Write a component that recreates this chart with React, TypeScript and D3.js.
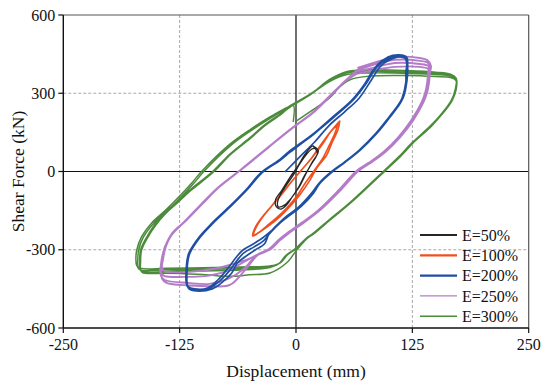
import React from "react";
import * as d3 from "d3";

type Pt = [number, number];

const xTicks = [-250, -125, 0, 125, 250];
const yTicks = [600, 300, 0, -300, -600];
const gridX = [-125, 125];
const gridY = [300, -300];

// E=50% (black)
const black1: Pt[] = [[18, 98], [24, 79], [17, 33], [10, -13], [4, -56], [-3.5, -94], [-10, -128], [-16, -144], [-21, -136], [-22, -109], [-15, -71], [-7, -25], [2, 21], [9, 63], [15, 90], [18, 98]];
const black2: Pt[] = [[20, 90], [23, 71], [16, 25], [9, -17], [3, -59], [-5, -102], [-12, -128], [-19, -136], [-20, -121], [-17.5, -94], [-11, -56], [-3.5, -17], [4, 29], [11.5, 67], [17, 86], [20, 90]];

// E=100% (orange)
const orange1: Pt[] = [[47, 194], [45, 159], [39, 113], [33, 63], [23, 17], [15, -33], [4, -90], [-7, -136], [-17.5, -174], [-28, -205], [-39, -232], [-46.5, -247], [-44, -216], [-37, -178], [-28, -140], [-17.5, -94], [-7, -48], [4, -2], [15, 44], [25, 94], [36, 148], [44, 182], [47, 194]];
const orange2: Pt[] = [[45, 182], [42, 148], [36, 102], [29, 52], [20, 6], [10, -44], [1, -94], [-10, -140], [-21, -178], [-31.5, -209], [-41, -236], [-45.5, -243], [-42, -209], [-35, -171], [-26, -132], [-15, -86], [-5, -40], [6, 6], [17, 52], [28, 102], [37, 151], [43, 174], [45, 182]];

// E=200% (blue)
const blue1: Pt[] = [[-12, -2], [4, 56], [20, 113], [36, 178], [52, 228], [68, 282], [81, 351], [92, 408], [106, 435], [114, 440], [119, 430], [120, 400],
  [119, 343], [115, 282], [109, 251], [101, 209], [87, 147], [68, 82], [52, 36], [39, 2], [25, -44], [18, -82], [4, -136], [-10, -174], [-17, -197], [-28, -232],
  [-36, -255], [-46, -278], [-57, -301], [-64, -328], [-73, -370], [-84, -416], [-95, -447], [-109, -450],
  [-116, -440], [-117, -427], [-117, -378], [-116, -339], [-114, -312], [-103, -251], [-89, -197], [-71, -136], [-53, -71], [-36, -2], [-17, 44], [-7, 75], [18, 140], [39, 205], [61, 274], [74, 332], [84, 389], [93, 420], [103, 435], [113, 439], [119, 428], [120, 397]];
const blue2: Pt[] = [[119, 360], [119, 343], [115, 282], [110, 251], [101, 209], [87, 147], [69, 82], [53, 36], [40, 2], [26, -44], [19, -82], [5, -136], [-9, -174], [-17, -197], [-28, -236],
  [-35, -266], [-45, -289], [-56, -312], [-63, -339], [-71, -378], [-82, -420], [-93, -447], [-108, -454],
  [-116, -445], [-118, -425], [-118, -378], [-117, -339], [-115, -312], [-104, -251], [-90, -197], [-72, -136], [-54, -71], [-37, -2], [-18, 44], [-8, 75], [17, 140], [38, 205], [60, 274], [73, 332], [83, 389], [92, 424], [102, 440], [112, 443], [117, 436], [119, 410]];
const blue3: Pt[] = [[118, 380], [118, 343], [114, 282], [109, 251], [100, 209], [86, 147], [68, 82], [52, 36], [39, 2], [25, -44], [17, -82], [3, -136], [-11, -174], [-18, -197], [-29, -240],
  [-34, -278], [-44, -301], [-55, -328], [-63, -351], [-69, -389], [-80, -427], [-90, -450], [-107, -458],
  [-115, -450], [-117, -430], [-117, -380], [-116, -340], [-114, -313], [-103, -252], [-89, -198], [-71, -137], [-53, -72], [-36, -3], [-17, 43], [-6, 75], [18, 141], [40, 206], [62, 276], [75, 335], [85, 392], [94, 428], [104, 445], [114, 446], [119, 438], [120, 415]];

// E=250% (purple)
const purple1: Pt[] = [[66, 397], [90, 424], [106, 439], [133, 435], [141, 427], [145, 405],
  [144, 381], [143, 343], [141, 305], [137, 266], [126, 197], [112, 132], [96, 75], [80, 33], [67, 2], [48, -71], [26, -148], [8, -197], [-6, -232], [-17, -263], [-27, -297], [-41, -320],
  [-57, -343], [-71, -358], [-89, -374], [-114, -385], [-136, -385], [-143, -378],
  [-144, -350], [-141, -300], [-134, -245], [-119, -190], [-101, -124], [-83, -60], [-58, 10], [-30, 92], [-5, 164], [17, 222], [35, 284], [51, 341], [66, 390]];
const purple2: Pt[] = [[66, 390], [90, 416], [106, 428], [133, 424], [142, 416], [144, 398],
  [143, 381], [142, 343], [140, 305], [136, 266], [125, 197], [111, 132], [95, 75], [79, 33], [66, 2], [47, -71], [25, -148], [7, -197], [-7, -232], [-18, -263], [-28, -297], [-42, -320],
  [-56, -347], [-77, -385], [-98, -401], [-120, -404], [-141, -401], [-145, -390],
  [-145, -355], [-142, -302], [-135, -247], [-120, -192], [-102, -126], [-84, -62], [-59, 8], [-31, 90], [-6, 162], [16, 220], [34, 282], [50, 338], [65, 383]];
const purple3: Pt[] = [[65, 383], [90, 404], [106, 416], [133, 412], [142, 405], [143, 395],
  [142, 381], [141, 343], [139, 305], [135, 266], [124, 197], [110, 132], [94, 75], [78, 33], [65, 2], [46, -71], [24, -148], [6, -197], [-8, -232], [-19, -263], [-29, -297], [-43, -322],
  [-55, -370], [-73, -412], [-93, -431], [-116, -427], [-141, -416], [-145, -400],
  [-146, -380], [-144, -340], [-141, -290], [-133, -238], [-118, -188], [-100, -122], [-82, -58], [-57, 12], [-29, 94], [-4, 166], [18, 224], [36, 286], [52, 343], [65, 374]];
const purple4: Pt[] = [[65, 374], [90, 393], [106, 401], [133, 401], [142, 393], [143, 385],
  [142, 370], [142, 343], [140, 305], [136, 266], [125, 197], [111, 132], [95, 75], [79, 33], [66, 2], [47, -71], [25, -148], [7, -197], [-6, -232], [-17, -263], [-27, -297], [-41, -320],
  [-53, -370], [-71, -435], [-90, -440], [-114, -437], [-139, -427], [-144, -410],
  [-145, -385], [-143, -339], [-140, -289], [-133, -236], [-118, -187], [-101, -122], [-83, -60], [-58, 11], [-30, 93], [-5, 165], [17, 223], [35, 285], [51, 342]];

// E=300% (green)
const green1: Pt[] = [[-1, 190], [18, 236], [36, 282], [47, 324], [58, 352], [80, 366], [120, 368], [150, 364], [166, 360], [172, 348],
  [171, 312], [167, 274], [157, 224], [144, 171], [125, 109], [111, 56], [95, 2], [79, -52], [58, -121], [36, -186], [18, -240], [11.5, -255], [1, -293], [-10, -320], [-17.5, -351], [-28, -362],
  [-60, -366], [-100, -369], [-140, -371], [-166, -372],
  [-171, -362], [-172, -335], [-171, -300], [-166, -251], [-155, -197], [-140, -148], [-126, -98], [-112, -44], [-101, 2], [-71, 105], [-50, 159], [-28, 209], [-7, 251], [-3, 259]];
const green2: Pt[] = [[-3, 259], [18, 303], [36, 353], [54, 383], [80, 390], [120, 387], [150, 381], [166, 373], [172, 358],
  [172, 313], [168, 275], [158, 225], [145, 172], [126, 110], [112, 57], [96, 3], [80, -51], [59, -120], [37, -185], [19, -239], [12.5, -254], [2, -292], [-9, -319], [-16.5, -349], [-27, -366],
  [-60, -372], [-100, -375], [-140, -377], [-167, -378],
  [-170, -368], [-170, -338], [-169, -300], [-164, -252], [-153, -199], [-138, -150], [-124, -100], [-110, -46], [-99, 0], [-70, 100], [-49, 155], [-27, 206], [-6, 250], [-3, 257]];
const green3: Pt[] = [[-3, 257], [17, 300], [36, 349], [54, 378], [80, 384], [120, 381], [150, 376], [166, 369], [172, 355],
  [171, 314], [167, 273], [157, 223], [143, 170], [124, 108], [110, 55], [94, 1], [78, -53], [57, -122], [35, -187], [17, -241], [11, -256], [0, -294], [-11, -322], [-18, -352], [-28, -368],
  [-60, -378], [-100, -381], [-140, -383], [-165, -384],
  [-168, -372], [-168, -345], [-167, -301], [-161, -255], [-152, -205], [-141, -159], [-128, -117], [-114, -71], [-89, 2], [-71, 67], [-50, 128], [-34, 178], [-17, 220], [-3, 255]];
const green4: Pt[] = [[-3, 255], [16, 296], [36, 345], [55, 372], [80, 378], [120, 376], [150, 372], [166, 366], [172, 352],
  [172, 315], [168, 274], [158, 224], [144, 170], [125, 108], [111, 55], [95, 1], [79, -53], [58, -122], [36, -187], [18, -241], [12, -257], [1, -300], [-10, -350], [-28, -389],
  [-50, -396], [-71, -402], [-100, -395], [-140, -390], [-165, -388],
  [-167, -376], [-167, -350], [-166, -303], [-160, -257], [-151, -207], [-140, -161], [-127, -119], [-113, -73], [-88, 0], [-70, 66], [-49, 127], [-33, 177], [-16, 219], [-3, 254], [-3, 190]];

const seriesNames = ["E=50%", "E=100%", "E=200%", "E=250%", "E=300%"];
const seriesColors = ["#262626", "#f0501e", "#1f4fa3", "#b47cc8", "#4b8b3b"];
const seriesWidths = [1.3, 1.6, 1.7, 1.9, 1.5];
const legendWidths = [2.2, 2.2, 2.2, 1.2, 1.6];
const seriesCycles: Pt[][][] = [
  [black1, black2],
  [orange1, orange2],
  [blue1, blue2, blue3],
  [purple1, purple2, purple3, purple4],
  [green1, green2, green3, green4],
];

const serif = "\"Liberation Serif\", \"Times New Roman\", Times, serif";

export default function App() {
  const width = 541, height = 383;
  const left = 63.3, right = 528.7, top = 15, bottom = 328;

  const x = d3.scaleLinear().domain([-250, 250]).range([left, right]);
  const y = d3.scaleLinear().domain([-600, 600]).range([bottom, top]);
  const line = d3.line<Pt>()
    .x(d => x(d[0]))
    .y(d => y(d[1]))
    .curve(d3.curveCatmullRom.alpha(0.5));

  const order = [4, 3, 2, 1, 0];
  const txt = { fontFamily: serif, fill: "#111" } as React.CSSProperties;

  return (
    <svg width={width} height={height} style={{ position: "absolute", left: 0, top: 0, background: "#fff" }}>
      <rect x={0} y={0} width={width} height={height} fill="#fff" />

      {gridX.map(v => (
        <line key={"gx" + v} x1={x(v)} x2={x(v)} y1={top} y2={bottom} stroke="#a8a8a8" strokeWidth={1} strokeDasharray="3,2" />
      ))}
      {gridY.map(v => (
        <line key={"gy" + v} x1={left} x2={right} y1={y(v)} y2={y(v)} stroke="#a8a8a8" strokeWidth={1} strokeDasharray="3,2" />
      ))}

      <line x1={x(0)} x2={x(0)} y1={top} y2={bottom} stroke="#111" strokeWidth={1.2} />
      <line x1={left} x2={right} y1={y(0)} y2={y(0)} stroke="#111" strokeWidth={1.2} />

      {order.map(i => (
        <path key={seriesNames[i]} d={line(([] as Pt[]).concat(...seriesCycles[i])) || ""}
          fill="none" stroke={seriesColors[i]} strokeWidth={seriesWidths[i]} strokeLinejoin="round" />
      ))}

      <line x1={left} x2={right} y1={top} y2={top} stroke="#555" strokeWidth={1.2} />
      <line x1={right} x2={right} y1={top} y2={bottom} stroke="#555" strokeWidth={1.2} />
      <line x1={left} x2={left} y1={top} y2={bottom} stroke="#111" strokeWidth={1.4} />
      <line x1={left} x2={right} y1={bottom} y2={bottom} stroke="#111" strokeWidth={1.4} />

      {yTicks.map(v => (
        <g key={"yt" + v}>
          <line x1={left - 5} x2={left} y1={y(v)} y2={y(v)} stroke="#111" strokeWidth={1.2} />
          <text x={left - 8} y={y(v)} dy="0.35em" textAnchor="end" fontSize={16} style={txt}>{v}</text>
        </g>
      ))}
      {xTicks.map(v => (
        <g key={"xt" + v}>
          <line x1={x(v)} x2={x(v)} y1={bottom} y2={bottom + 5} stroke="#111" strokeWidth={1.2} />
          <text x={x(v)} y={350} textAnchor="middle" fontSize={16} style={txt}>{v}</text>
        </g>
      ))}

      <text x={(left + right) / 2} y={377} textAnchor="middle" fontSize={17.5} style={txt}>Displacement (mm)</text>
      <text transform={`translate(24,${y(0)}) rotate(-90)`} textAnchor="middle" fontSize={17.5} style={txt}>Shear Force (kN)</text>

      {seriesNames.map((name, i) => {
        const ly = 235 + i * 20.3;
        return (
          <g key={"lg" + name}>
            <line x1={420} x2={457} y1={ly} y2={ly} stroke={seriesColors[i]} strokeWidth={legendWidths[i]} />
            <text x={462} y={ly} dy="0.35em" fontSize={16} style={txt}>{name}</text>
          </g>
        );
      })}
    </svg>
  );
}
